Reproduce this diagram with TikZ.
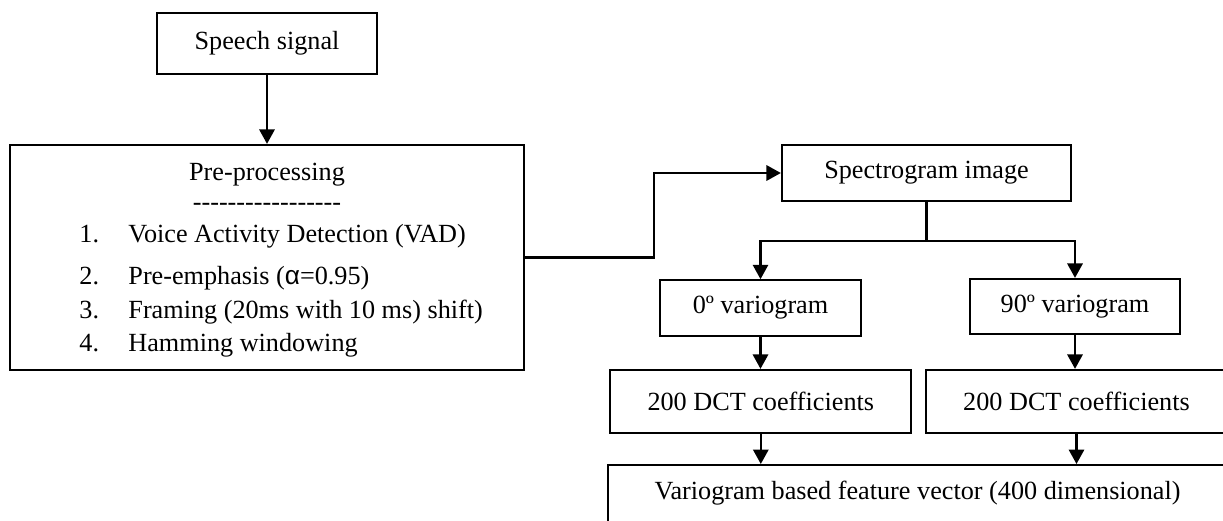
\documentclass[tikz,border=0pt]{standalone}
\usepackage{fontspec}
\setmainfont{Liberation Serif}
\newfontfamily\alphafont{Liberation Sans}
\usetikzlibrary{arrows.meta}

\newcommand{\dashrow}{\foreach \k in {1,...,17}{\mbox{-}}}

\begin{document}
\begin{tikzpicture}[x=0.458pt, y=-0.458pt,
        font=\fontsize{12pt}{14pt}\selectfont,
        box/.style={draw, line width=1pt, inner sep=0pt},
        txt/.style={inner sep=0pt, anchor=base west},
        lnk/.style={line width=1pt},
        arr/.style={lnk, -{Triangle[length=6.6pt, width=7pt]}}]
        \useasboundingbox (0,0) rectangle (1223,521);
        % left column
        \node[box, minimum width=100.8pt, minimum height=27.9pt] (speech) at (267,43.5) {Speech signal};
        \node[box, minimum width=235.4pt, minimum height=103.1pt] (pre) at (267,257.5) {};
        \node[inner sep=0pt, anchor=base] (pretitle) at (267,181) {Pre-processing};
        \node[inner sep=0pt, anchor=base] (predash) at (267,211) {\dashrow};
        \foreach \n/\y/\t in {1/243/{Voice Activity Detection (VAD)},
                              2/285/{Pre-emphasis ({\alphafont α}=0.95)},
                              3/319/{Framing (20ms with 10 ms) shift)},
                              4/352/{Hamming windowing}} {
            \node[txt] (num\n) at (79,\y) {\n.};
            \node[txt] (item\n) at (128,\y) {\t};
        }
        % right column
        \node[box, minimum width=132.4pt, minimum height=25.6pt] (spec) at (926.5,173) {Spectrogram image};
        \node[box, minimum width=92.1pt, minimum height=25.4pt] (var0) at (760.5,308) {0º variogram};
        \node[box, minimum width=96.2pt, minimum height=25.2pt] (var90) at (1075,306.5) {90º variogram};
        \node[box, minimum width=137.9pt, minimum height=28.9pt] (dct0) at (760.8,401.5) {200 DCT coefficients};
        \node[box, minimum width=137.9pt, minimum height=28.9pt] (dct90) at (1076.5,401.5) {200 DCT coefficients};
        \node[box, anchor=north, minimum width=283.5pt, text height=15.6pt, text depth=14.7pt] (feat) at (917.5,464) {Variogram based feature vector (400 dimensional)};
        % connectors
        \draw[arr] (speech) -- (pre);
        \draw[arr] (pre.east) -- ++(129,0) |- (spec.west);
        \draw[lnk] (spec.south) -- ++(0,39) coordinate (split);
        \draw[arr] (split) -| (var0.north);
        \draw[arr] (split) -| (var90.north);
        \draw[arr] (var0.south) -- (var0.south |- dct0.north);
        \draw[arr] (var90.south) -- (var90.south |- dct90.north);
        \draw[arr] (dct0.south) -- (dct0.south |- feat.north);
        \draw[arr] (dct90.south) -- (dct90.south |- feat.north);
    \end{tikzpicture}
\end{document}
